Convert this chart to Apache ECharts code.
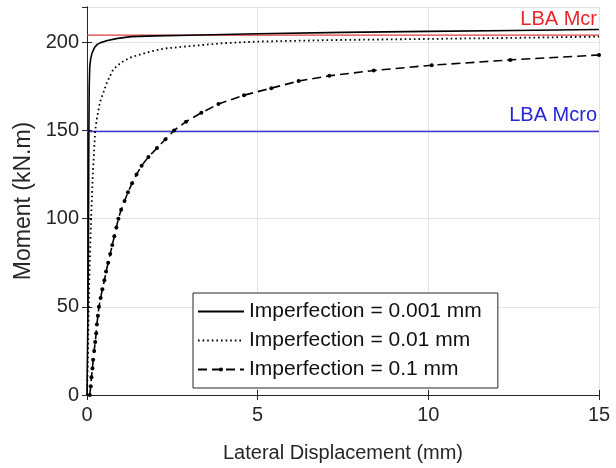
<!DOCTYPE html>
<html>
<head>
<meta charset="utf-8">
<script src="https://cdn.jsdelivr.net/npm/echarts@6/dist/echarts.min.js"></script>
<style>
html,body{margin:0;padding:0;background:#fff;overflow:hidden;}
#chart{width:616px;height:468px;}
</style>
</head>
<body>
<div id="chart"></div>
<script>
// Imperfection = 0.001 mm : [displacement mm, moment kN.m]
var solidData = [[0,0],[0.03,50],[0.045,100],[0.055,150],[0.065,175],[0.08,186],[0.11,191],[0.15,194],[0.22,197],[0.3,198.8],[0.4,199.8],[0.6,201],[0.9,202.2],[1.3,203.2],[2,203.6],[3,204],[5,204.8],[7.5,205.6],[10,206.2],[12.5,206.7],[15,207.2]];
// Imperfection = 0.01 mm
var dottedData = [[0,0],[0.03,25],[0.05,50],[0.08,75],[0.12,100],[0.17,125],[0.24,150],[0.3,158],[0.38,166],[0.58,177],[0.77,184.7],[1.0,188.5],[1.26,191.3],[1.75,194.2],[2.24,196.4],[3,197.8],[4,199.5],[5,200.4],[7,201.2],[10,201.9],[12.5,202.5],[15,203.2]];
// Imperfection = 0.1 mm
var dashedData = [[0.08,0],[0.11,5],[0.13,10],[0.16,15],[0.18,20],[0.21,25],[0.24,30],[0.27,35],[0.29,40],[0.32,45],[0.35,50],[0.40,55],[0.45,60],[0.51,65],[0.56,70],[0.62,75],[0.68,80],[0.74,85],[0.80,90],[0.86,95],[0.92,100],[1.00,105],[1.10,110],[1.20,115],[1.32,120],[1.45,125],[1.60,130],[1.80,135],[2.05,140],[2.30,145],[2.55,150],[2.90,155],[3.35,160],[3.85,165],[4.60,170],[5.40,174],[6.20,178],[7.10,181],[8.40,184],[10.1,187],[12.4,190],[15,192.8]];
var seriesNames = ['Imperfection = 0.001 mm','Imperfection = 0.01 mm','Imperfection = 0.1 mm'];
var lbaMcr = 204.1;
var lbaMcro = 149.4;
var xRange = [0, 15];
var xTicks = [0,5,10,15];
var yTicks = [0,50,100,150,200];

var FONT = "'Liberation Sans', Arial, Helvetica, sans-serif";
var AX = '#262626';
var chart = echarts.init(document.getElementById('chart'), null, {renderer:'canvas'});
var baseX = {type:'value', min:0, max:15, interval:5};
var baseY = {type:'value', min:0, max:220, interval:50};
function refLine(name, value, lineColor, textColor){
  return {
    name:name, type:'line', z:3, silent:true, symbol:'none',
    data:[[xRange[0], value],[xRange[1], value]],
    lineStyle:{color:lineColor, width:1.3, type:'solid', opacity:1},
    itemStyle:{color:lineColor},
    emphasis:{disabled:true},
    markLine:{
      silent:true, symbol:'none', animation:false,
      lineStyle:{color:'rgba(255,255,255,0)', width:1},
      label:{show:true, position:'insideEndTop', formatter:name, color:textColor, fontSize:20, fontFamily:FONT, distance:[2,6], opacity:1},
      emphasis:{disabled:true},
      data:[{yAxis:value}]
    }
  };
}
var option = {
  animation:false,
  backgroundColor:'#fff',
  textStyle:{fontFamily:FONT},
  grid:{left:87, right:17, top:7, bottom:72},
  legend:{
    orient:'vertical', left:193, top:293,
    backgroundColor:'#fff', borderColor:AX, borderWidth:1,
    padding:[8,16,8,4], itemGap:8, itemWidth:46, itemHeight:5,
    textStyle:{fontFamily:FONT, fontSize:21, color:'#111', lineHeight:20},
    data:[
      {name:seriesNames[0], itemStyle:{opacity:0}},
      {name:seriesNames[1], itemStyle:{opacity:0}},
      {name:seriesNames[2]}
    ]
  },
  xAxis:[
    Object.assign({}, baseX, {
      position:'bottom',
      name:'Lateral Displacement (mm)', nameLocation:'middle', nameGap:48,
      nameTextStyle:{fontFamily:FONT, fontSize:20, color:AX},
      axisLine:{show:true, lineStyle:{color:AX, width:1}},
      axisTick:{show:true, inside:true, length:5, lineStyle:{color:AX}},
      axisLabel:{fontFamily:FONT, fontSize:20, color:AX, margin:10,
        formatter:function(v){return xTicks.indexOf(v)>=0? String(v):'';}},
      splitLine:{show:true, lineStyle:{color:'#e3e3e3', width:1}}
    }),
    Object.assign({}, baseX, {
      position:'top',
      axisLine:{show:true, lineStyle:{color:AX, width:1}},
      axisTick:{show:true, inside:true, length:5, lineStyle:{color:AX}},
      axisLabel:{show:false}, splitLine:{show:false}
    })
  ],
  yAxis:[
    Object.assign({}, baseY, {
      position:'left',
      name:'Moment (kN.m)', nameLocation:'middle', nameGap:50,
      nameTextStyle:{fontFamily:FONT, fontSize:23, color:AX},
      axisLine:{show:true, lineStyle:{color:AX, width:1}},
      axisTick:{show:true, inside:true, length:5, lineStyle:{color:AX}},
      axisLabel:{fontFamily:FONT, fontSize:20, color:AX, margin:8, showMaxLabel:false,
        formatter:function(v){return yTicks.indexOf(v)>=0? String(v):'';}},
      splitLine:{show:true, lineStyle:{color:'#e3e3e3', width:1}}
    }),
    Object.assign({}, baseY, {
      position:'right',
      axisLine:{show:true, lineStyle:{color:AX, width:1}},
      axisTick:{show:true, inside:true, length:5, lineStyle:{color:AX}},
      axisLabel:{show:false}, splitLine:{show:false}
    })
  ],
  series:[
    {
      name:seriesNames[0], type:'line', data:solidData, symbol:'none', z:5,
      lineStyle:{color:'#000', width:1.6, type:'solid'}, itemStyle:{color:'#000'}
    },
    {
      name:seriesNames[1], type:'line', data:dottedData, symbol:'none', z:4,
      lineStyle:{color:'#000', width:1.8, type:[1.6,3]}, itemStyle:{color:'#000'}
    },
    {
      name:seriesNames[2], type:'line', data:dashedData, symbol:'circle', symbolSize:4, showSymbol:true, z:4,
      lineStyle:{color:'#000', width:1.6, type:[9,5]}, itemStyle:{color:'#000'}
    },
    refLine('LBA Mcr', lbaMcr, '#dd3c3c', '#e8262b'),
    refLine('LBA Mcro', lbaMcro, '#3c3cd0', '#2626d6')
  ]
};
chart.setOption(option);
</script>
</body>
</html>
